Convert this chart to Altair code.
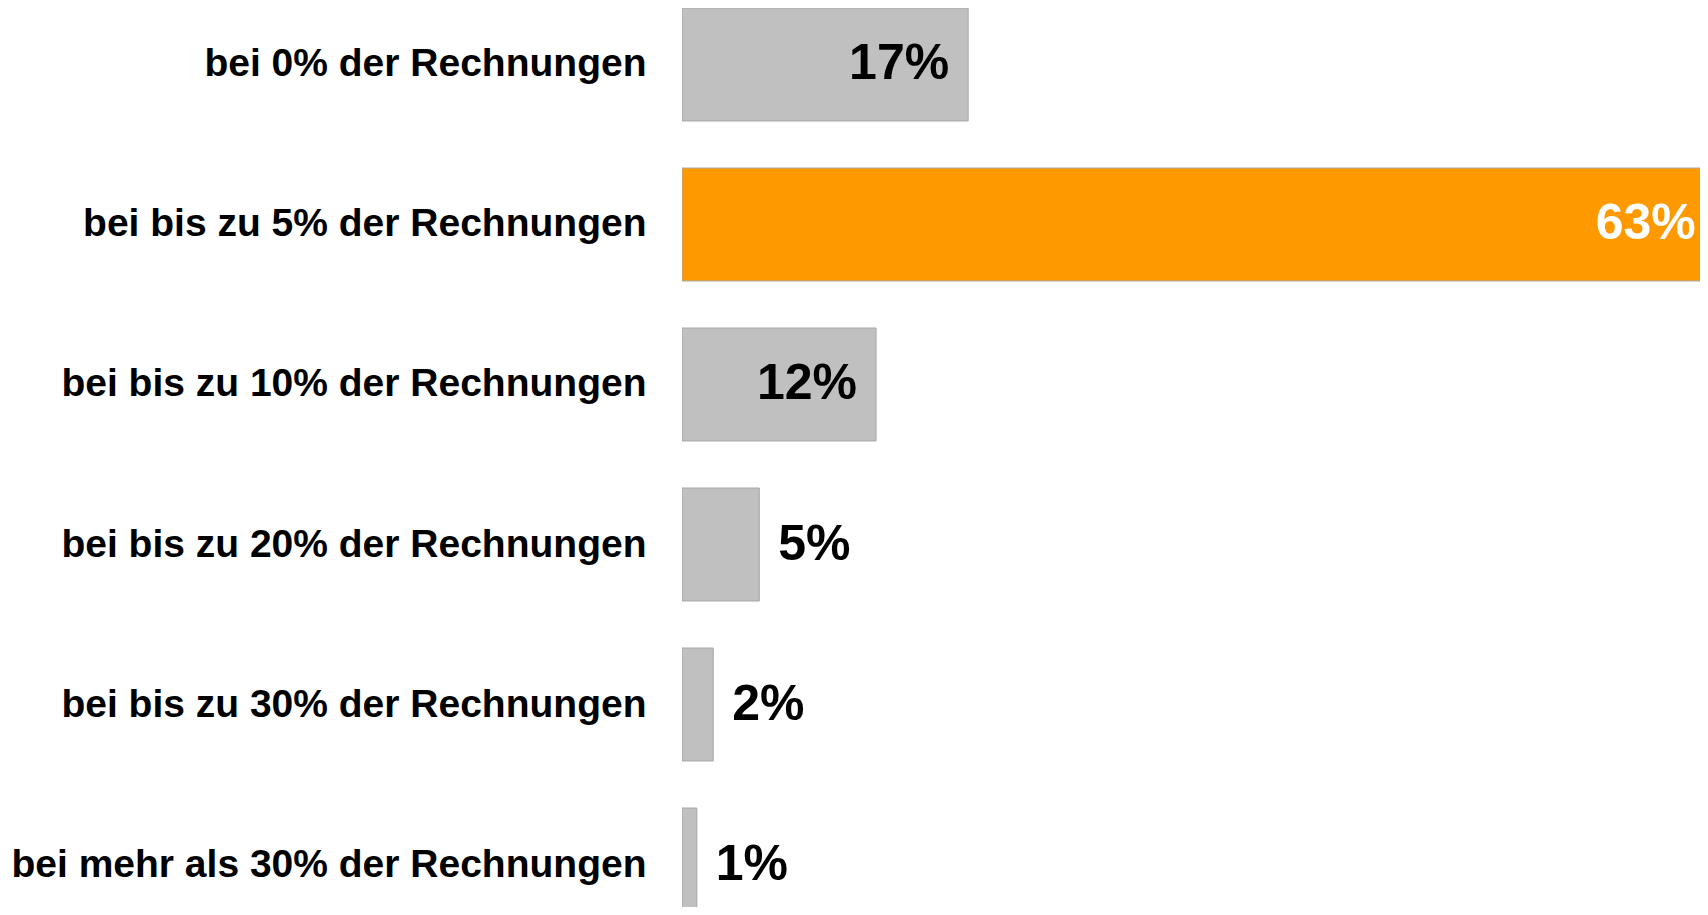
import altair as alt
import pandas as pd

categories = [
    "bei 0% der Rechnungen",
    "bei bis zu 5% der Rechnungen",
    "bei bis zu 10% der Rechnungen",
    "bei bis zu 20% der Rechnungen",
    "bei bis zu 30% der Rechnungen",
    "bei mehr als 30% der Rechnungen",
]
# shares (labels show rounded values)
values = [17.4, 62.8, 11.8, 4.7, 1.9, 0.9]

df = pd.DataFrame({"category": categories, "value": values})

FONT = "Liberation Sans"

y_enc = alt.Y(
    "category:N",
    sort=categories,
    scale=alt.Scale(range=[0, 913], paddingInner=0.294, paddingOuter=0),
    axis=alt.Axis(
        title=None,
        ticks=False,
        domain=False,
        grid=False,
        labelFont=FONT,
        labelFontSize=39,
        labelFontWeight="bold",
        labelColor="black",
        labelPadding=36,
        labelLimit=0,
        minExtent=674,
        maxExtent=674,
    ),
)
x_enc = alt.X("value:Q", scale=alt.Scale(domain=[0, 61.9], nice=False, zero=True), axis=None)

base = alt.Chart(df).encode(y=y_enc, x=x_enc).transform_calculate(
    label="format(datum.value, '.0f') + '%'"
)

bars = base.mark_bar(clip=True, stroke="#a6a6a6", strokeWidth=1).encode(
    color=alt.condition(alt.datum.value > 50, alt.value("#FF9900"), alt.value("#C0C0C0"))
)

inside = base.transform_filter(alt.datum.value >= 10).mark_text(
    align="right", baseline="middle", dx=-19, font=FONT, fontSize=50, fontWeight="bold"
).encode(
    text="label:N",
    color=alt.condition(alt.datum.value > 50, alt.value("white"), alt.value("black")),
)

outside = base.transform_filter(alt.datum.value < 10).mark_text(
    align="left", baseline="middle", dx=19, font=FONT, fontSize=50, fontWeight="bold", color="black"
).encode(text="label:N")

chart = (
    alt.layer(bars, inside, outside)
    .properties(width=1018, height=899, padding=0)
    .configure_view(stroke=None)
)

chart.save("out.html", embed_options={"renderer": "svg", "actions": False})
